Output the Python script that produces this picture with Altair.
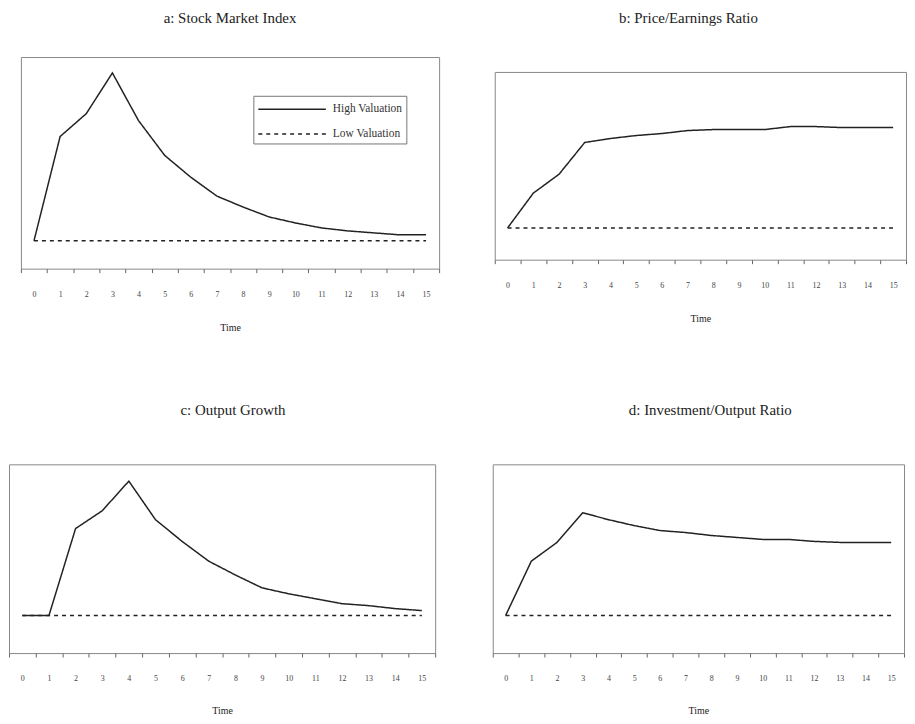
import altair as alt
import pandas as pd

time = list(range(16))
series_names = ["High Valuation", "Low Valuation"]

a_high = [0, 10.5, 12.8, 16.9, 12.1, 8.6, 6.4, 4.5, 3.4, 2.4, 1.8, 1.3, 1.0, 0.8, 0.6, 0.6]
b_high = [0, 3.5, 5.4, 8.6, 9.0, 9.3, 9.5, 9.8, 9.9, 9.9, 9.9, 10.2, 10.2, 10.1, 10.1, 10.1]
c_high = [0, 0, 8.8, 10.6, 13.6, 9.7, 7.5, 5.5, 4.1, 2.8, 2.2, 1.7, 1.2, 1.0, 0.7, 0.5]
d_high = [0, 5.5, 7.4, 10.4, 9.7, 9.1, 8.6, 8.4, 8.1, 7.9, 7.7, 7.7, 7.5, 7.4, 7.4, 7.4]
low_val = [0, 0, 0, 0, 0, 0, 0, 0, 0, 0, 0, 0, 0, 0, 0, 0]

titles = ["a: Stock Market Index", "b: Price/Earnings Ratio",
          "c: Output Growth", "d: Investment/Output Ratio"]

FONT = "Liberation Serif"


def make_df(high, low):
    rows = []
    for t, h, l in zip(time, high, low):
        rows.append({"t": t, "v": h, "series": series_names[0]})
        rows.append({"t": t, "v": l, "series": series_names[1]})
    return pd.DataFrame(rows)


def title_params(text, offset, dx):
    return alt.TitleParams(text, font=FONT, fontSize=15, fontWeight="normal",
                           color="#222", offset=offset, dx=dx, anchor="middle")


def spacer(w, h, title=None):
    c = alt.Chart(pd.DataFrame({"s": [0]})).mark_point(opacity=0).encode(
        x=alt.X("s:Q", axis=None),
        y=alt.Y("s:Q", axis=None),
    )
    if title is not None:
        return c.properties(width=w, height=h, title=title,
                            view=alt.ViewBackground(stroke="transparent"))
    return c.properties(width=w, height=h,
                        view=alt.ViewBackground(stroke="transparent"))


def panel(high, w, h, ydom, title=None, legend=False, tpad=24):
    df = make_df(high, low_val)
    if legend:
        leg = alt.Legend(title=None, orient="none", legendX=246, legendY=39,
                         symbolType="M-1,0H7", symbolSize=289,
                         symbolStrokeWidth=1.5, symbolStrokeColor="#222",
                         labelOffset=57, labelFont=FONT, labelFontSize=11.5,
                         labelColor="#333", strokeColor="#777", padding=4,
                         rowPadding=10, fillColor="white")
    else:
        leg = None
    c = alt.Chart(df).mark_line(color="#222", strokeWidth=1.5).encode(
        x=alt.X("t:O", bandPosition=0.5,
                scale=alt.Scale(type="band", paddingInner=0, paddingOuter=0),
                axis=alt.Axis(title="Time", tickBand="extent", labelAngle=0,
                              domain=False, grid=False, tickSize=4,
                              tickColor="#666", labelPadding=18,
                              labelFont=FONT, labelFontSize=8,
                              labelColor="#444", titleFont=FONT,
                              titleFontSize=10, titleFontWeight="normal",
                              titleColor="#222", titlePadding=tpad)),
        y=alt.Y("v:Q", scale=alt.Scale(domain=ydom, nice=False, zero=False),
                axis=None),
        strokeDash=alt.StrokeDash("series:N",
                                  scale=alt.Scale(domain=series_names,
                                                  range=[[1, 0], [4, 4]]),
                                  legend=leg),
        detail="series:N",
    )
    if title is not None:
        return c.properties(width=w, height=h, title=title)
    return c.properties(width=w, height=h)


pa = panel(a_high, 421, 213, [-2.8, 18.5],
           title=title_params(titles[0], 31, 0), legend=True)
pb = panel(b_high, 414, 189, [-3.2, 15.7])
pc = panel(c_high, 429, 190, [-3.8, 15.3],
           title=title_params(titles[2], 47, 11), tpad=23)
pd_ = panel(d_high, 414, 190, [-3.8, 15.3],
            title=title_params(titles[3], 47, 12), tpad=23)

col_a = alt.hconcat(spacer(10, 10), pa, spacing=0)
col_b = alt.vconcat(spacer(414, 13, title=title_params(titles[1], 31, -12)), pb,
                    spacing=0)

top = alt.hconcat(col_a, col_b, spacing=54)
bottom = alt.hconcat(pc, pd_, spacing=56)

chart = alt.vconcat(top, bottom, spacing=69).resolve_scale(
    x="independent", y="independent", strokeDash="independent"
).properties(
    padding={"left": 0, "top": 0, "right": 0, "bottom": 0}
).configure_view(
    stroke="#888", strokeWidth=1
)

chart.save("out.html", embed_options={"renderer": "svg", "actions": False})
